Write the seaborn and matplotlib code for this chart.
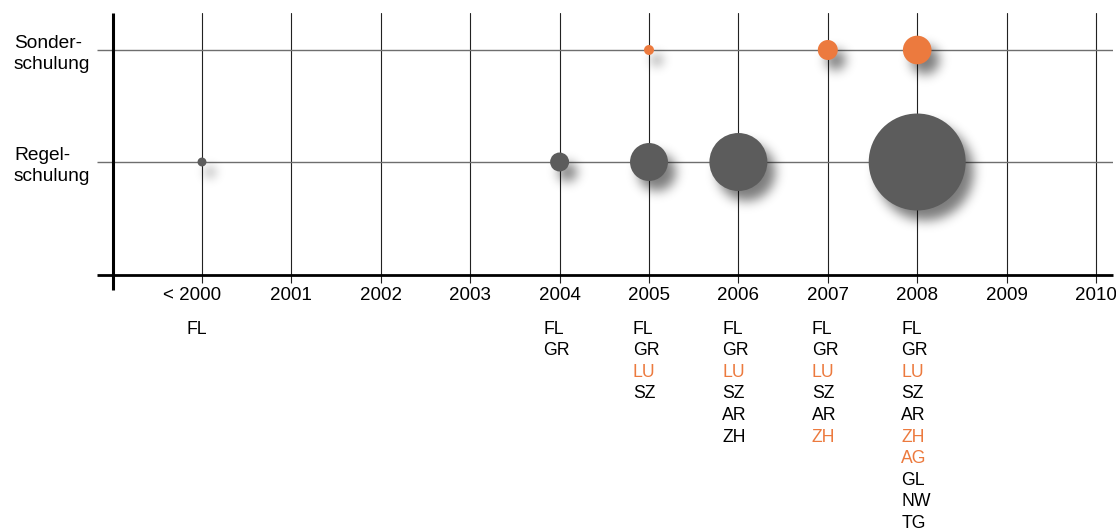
import numpy as np
import pandas as pd
import seaborn as sns
import matplotlib
matplotlib.use("Agg")
import matplotlib.pyplot as plt
from matplotlib.transforms import blended_transform_factory, ScaledTranslation

# ---------------- data ----------------
years = ["< 2000", "2001", "2002", "2003", "2004", "2005",
         "2006", "2007", "2008", "2009", "2010"]
row_labels = ["Regel-\nschulung", "Sonder-\nschulung"]

regel_years = ["< 2000", "2004", "2005", "2006", "2008"]
regel_values = [20, 90, 360, 840, 2350]

sonder_years = ["2005", "2007", "2008"]
sonder_values = [25, 100, 205]

canton_years = ["< 2000", "2004", "2005", "2006", "2007", "2008"]
canton_lists = [
    ["FL"],
    ["FL", "GR"],
    ["FL", "GR", "LU", "SZ"],
    ["FL", "GR", "LU", "SZ", "AR", "ZH"],
    ["FL", "GR", "LU", "SZ", "AR", "ZH"],
    ["FL", "GR", "LU", "SZ", "AR", "ZH", "AG", "GL", "NW", "TG"],
]
canton_sonder = [
    [],
    [],
    ["LU"],
    ["LU"],
    ["LU", "ZH"],
    ["LU", "ZH", "AG"],
]

GRAY = "#5c5c5c"
ORANGE = "#ec7a3e"

# ---------------- frame ----------------
W, H = 1116, 532
DPI = 100
sns.set_theme(style="white")
plt.rcParams["font.family"] = ["Liberation Sans", "DejaVu Sans"]
plt.rcParams["text.color"] = "black"
plt.rcParams["xtick.color"] = "black"
plt.rcParams["ytick.color"] = "black"
plt.rcParams["xtick.labelcolor"] = "black"
plt.rcParams["ytick.labelcolor"] = "black"

fig = plt.figure(figsize=(W / DPI, H / DPI), dpi=DPI)
ax_l, ax_r, ax_t, ax_b = 113, 1113, 13, 275
ax = fig.add_axes([ax_l / W, (H - ax_b) / H, (ax_r - ax_l) / W, (ax_b - ax_t) / H])

df = pd.DataFrame({
    "x": [years.index(y) for y in regel_years] + [years.index(y) for y in sonder_years],
    "y": [0] * len(regel_years) + [1] * len(sonder_years),
    "value": regel_values + sonder_values,
    "type": ["Regel"] * len(regel_years) + ["Sonder"] * len(sonder_years),
})

vmax = max(df["value"])
px_pt = 72 / DPI
smax = vmax * (2 * px_pt) ** 2  # value ~ radius^2 in px


def shadow_filter(im, dpi):
    pad = 20
    a = np.pad(im, [(pad, pad), (pad, pad), (0, 0)], "constant")
    sigma = 4.0
    r = int(3 * sigma)
    k = np.exp(-0.5 * (np.arange(-r, r + 1) / sigma) ** 2)
    k /= k.sum()
    al = a[..., 3]
    al = np.apply_along_axis(lambda m: np.convolve(m, k, mode="same"), 0, al)
    al = np.apply_along_axis(lambda m: np.convolve(m, k, mode="same"), 1, al)
    out = np.zeros_like(a)
    out[..., 3] = np.clip(al * 0.72, 0, 1)
    out = np.roll(out, 5, axis=0)
    out = np.roll(out, 4, axis=1)
    return out, -pad, -pad


# shadows
sns.scatterplot(data=df, x="x", y="y", size="value", sizes=(0, smax),
                size_norm=(0, vmax), color="black", linewidth=0,
                legend=False, ax=ax, zorder=2)
shadow = ax.collections[-1]
shadow.set_agg_filter(shadow_filter)
shadow.set_rasterized(True)

# bubbles
sns.scatterplot(data=df, x="x", y="y", size="value", sizes=(0, smax),
                size_norm=(0, vmax), hue="type",
                palette={"Regel": GRAY, "Sonder": ORANGE},
                linewidth=0, edgecolor="none", alpha=1,
                legend=False, ax=ax, zorder=3)

# ---------------- axes ----------------
xpx = 89.4
ax.set_xlim(-(202 - ax_l) / xpx, (ax_r - 202) / xpx)
ypx = 112
ax.set_ylim(-(ax_b - 162) / ypx, 1 + (50 - ax_t) / ypx)

ax.set_xticks(range(len(years)))
ax.set_xticklabels(years, fontsize=13.5, color="black")
ax.set_yticks([0, 1])
ax.set_yticklabels(row_labels, fontsize=13.8, ha="left", linespacing=1.3,
                   color="black")
ax.set_xlabel("")
ax.set_ylabel("")

for s in ax.spines.values():
    s.set_visible(False)

ax.grid(axis="x", color="#222222", linewidth=0.8)
ax.grid(axis="y", color="#6e6e6e", linewidth=1.0)
ax.set_axisbelow(True)
ax.tick_params(axis="x", direction="out", length=8 * px_pt, width=0.8,
               color="#222222", pad=3, bottom=True)
ax.tick_params(axis="y", direction="out", length=16 * px_pt, width=1.0,
               color="#6e6e6e", pad=(113 - 16 - 14) * px_pt, left=True)

# shift "< 2000" so the number sits on its tick
lab0 = ax.get_xticklabels()[0]
lab0.set_transform(lab0.get_transform() + ScaledTranslation(-10 / DPI, 0, fig.dpi_scale_trans))

# heavy axis lines
ax.plot([(97 - ax_l) / (ax_r - ax_l), 1], [0, 0], transform=ax.transAxes,
        color="black", linewidth=2.0, clip_on=False, zorder=5, solid_capstyle="butt")
ax.plot([0, 0], [-(290 - ax_b) / (ax_b - ax_t), 1], transform=ax.transAxes,
        color="black", linewidth=2.2, clip_on=False, zorder=5, solid_capstyle="butt")

# ---------------- canton lists ----------------
trans = blended_transform_factory(ax.transData, ax.transAxes)
for yr, names, hl in zip(canton_years, canton_lists, canton_sonder):
    xi = years.index(yr)
    for k, name in enumerate(names):
        base_px = 333.5 + 21.6 * k
        ax.text(xi - 16 / xpx, (ax_b - base_px) / (ax_b - ax_t), name,
                transform=trans, ha="left", va="baseline", fontsize=12.7,
                color=ORANGE if name in hl else "black", clip_on=False)

fig.savefig("out.png", dpi=DPI)
